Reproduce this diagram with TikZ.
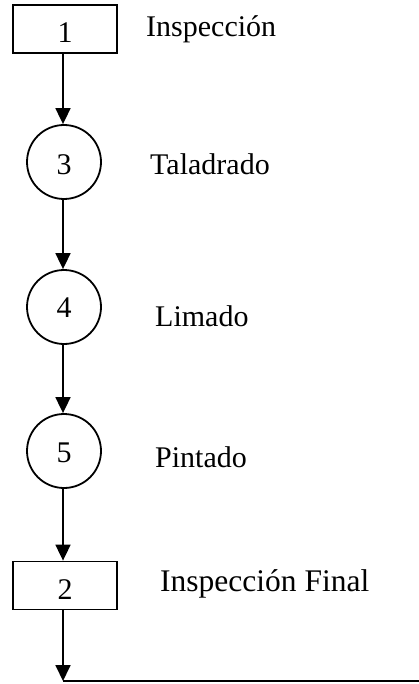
\documentclass[tikz,border=0pt]{standalone}
\usepackage{fontspec}
\setmainfont{Liberation Serif}
\usetikzlibrary{arrows.meta}
% digit set slightly below the symbol's centre
\newcommand{\lowdigit}[2]{\raisebox{-#1pt}[\height][\depth]{#2}}
\begin{document}
\begin{tikzpicture}[x=1pt,y=-1pt,
  every node/.style={font=\fontsize{30}{36}\selectfont, inner sep=0pt},
  opbox/.style={draw, line width=1.8pt, minimum width=104pt, minimum height=48pt},
  opcircle/.style={draw, circle, line width=1.8pt, minimum size=74pt},
  flow/.style={line width=1.8pt, -{Triangle[length=16pt,width=15pt]}},
  label/.style={anchor=base west}]
  \useasboundingbox (0,0) rectangle (419,684);

  % operation symbols
  \node[opbox]    (b1) at (65,29)    {\lowdigit{3.5}{1}};
  \node[opcircle] (c3) at (64,162)   {\lowdigit{3}{3}};
  \node[opcircle] (c4) at (64,307)   {\lowdigit{1}{4}};
  \node[opcircle] (c5) at (64,451)   {\lowdigit{2}{5}};
  \node[opbox]    (b2) at (65,585.5) {\lowdigit{4.5}{2}};

  % descriptions
  \node[label] (l1) at (146,37)  {Inspección};
  \node[label] (l3) at (150,175) {Taladrado};
  \node[label] (l4) at (155,326) {Limado};
  \node[label] (l5) at (155,467) {Pintado};
  \node[label, font=\fontsize{31.5}{36}\selectfont] (l2) at (160,591) {Inspección Final};

  % flow between steps
  \coordinate (end) at (63,681);
  \coordinate (out) at (419,681);
  \draw[flow] (b1.south -| 63,0) -- (c3.north -| 63,0);
  \draw[flow] (c3.south -| 63,0) -- (c4.north -| 63,0);
  \draw[flow] (c4.south -| 63,0) -- (c5.north -| 63,0);
  \draw[flow] (c5.south -| 63,0) -- (b2.north -| 63,0);
  \draw[flow] (b2.south -| 63,0) -- (end);
  \draw[line width=2.5pt] (end) -- (out);
\end{tikzpicture}
\end{document}
